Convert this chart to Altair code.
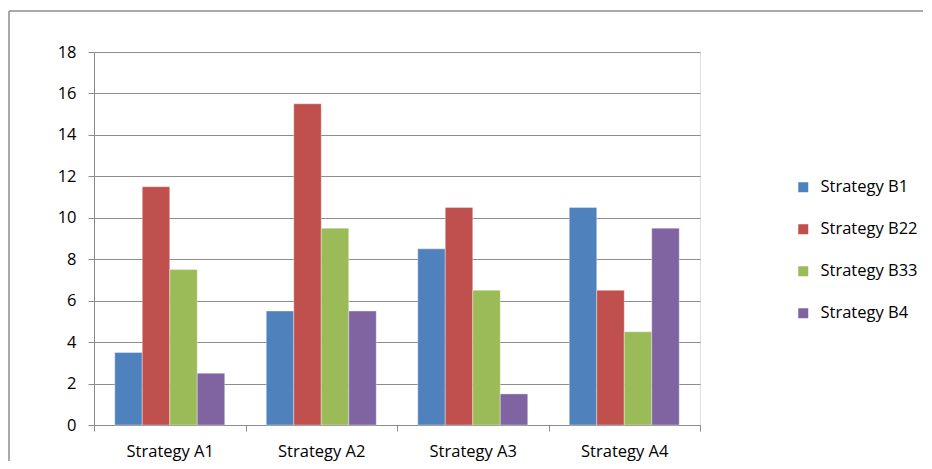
import altair as alt
import pandas as pd

categories = ["Strategy A1", "Strategy A2", "Strategy A3", "Strategy A4"]
series = ["Strategy B1", "Strategy B22", "Strategy B33", "Strategy B4"]
values_b1 = [3.5, 5.5, 8.5, 10.5]
values_b22 = [11.5, 15.5, 10.5, 6.5]
values_b33 = [7.5, 9.5, 6.5, 4.5]
values_b4 = [2.5, 5.5, 1.5, 9.5]
colors = ["#4F81BD", "#C0504D", "#9BBB59", "#8064A2"]

rows = []
for s, vals in zip(series, [values_b1, values_b22, values_b33, values_b4]):
    for c, v in zip(categories, vals):
        rows.append({"cat": c, "series": s, "value": v})
df = pd.DataFrame(rows)

FONT = "Open Sans"
FS = 16.5
GRID = "#8C8C8C"

bars = alt.Chart(df).mark_bar(stroke="#FFFFFF", strokeWidth=0.6, strokeOpacity=0.6).encode(
    x=alt.X("cat:N", sort=categories, title=None,
            scale=alt.Scale(paddingInner=0, paddingOuter=0),
            axis=alt.Axis(labelAngle=0, tickBand="extent", grid=False,
                          domainColor=GRID, tickColor=GRID, tickSize=6,
                          labelFont=FONT, labelFontSize=FS, labelColor="#000000",
                          labelBaseline="alphabetic", labelPadding=25)),
    xOffset=alt.XOffset("series:N", sort=series,
                        scale=alt.Scale(paddingInner=0, paddingOuter=0.755)),
    y=alt.Y("value:Q", title=None,
            scale=alt.Scale(domain=[0, 18], nice=False),
            axis=alt.Axis(values=list(range(0, 19, 2)), grid=True, gridColor=GRID,
                          gridWidth=1.2, domainColor=GRID, tickColor=GRID, tickSize=6,
                          labelFont=FONT, labelFontSize=FS, labelColor="#000000",
                          labelPadding=12)),
    color=alt.Color("series:N", sort=series,
                    scale=alt.Scale(domain=series, range=colors),
                    legend=alt.Legend(title=None, orient="none", legendX=701, legendY=127,
                                      symbolType="square", symbolSize=100,
                                      symbolStrokeWidth=0, rowPadding=25,
                                      labelFont=FONT, labelFontSize=FS,
                                      labelColor="#000000", labelOffset=9)),
)

frame_top = alt.Chart(pd.DataFrame({"f": [0]})).mark_rule(
    stroke="#8C8C8C", strokeWidth=1.5, clip=False
).encode(x=alt.value(-85), x2=alt.value(829), y=alt.value(-41))

frame_left = alt.Chart(pd.DataFrame({"f": [0]})).mark_rule(
    stroke="#8C8C8C", strokeWidth=1.5, clip=False
).encode(x=alt.value(-85), y=alt.value(-41), y2=alt.value(420))

chart = alt.layer(bars, frame_top, frame_left).properties(
    width=606, height=373,
    autosize=alt.AutoSizeParams(type="none"),
    padding={"left": 86, "top": 44, "right": 224, "bottom": 36},
).configure_view(stroke=None).configure(background="#FFFFFF")

chart.save("out.html", embed_options={"renderer": "svg", "actions": False})
